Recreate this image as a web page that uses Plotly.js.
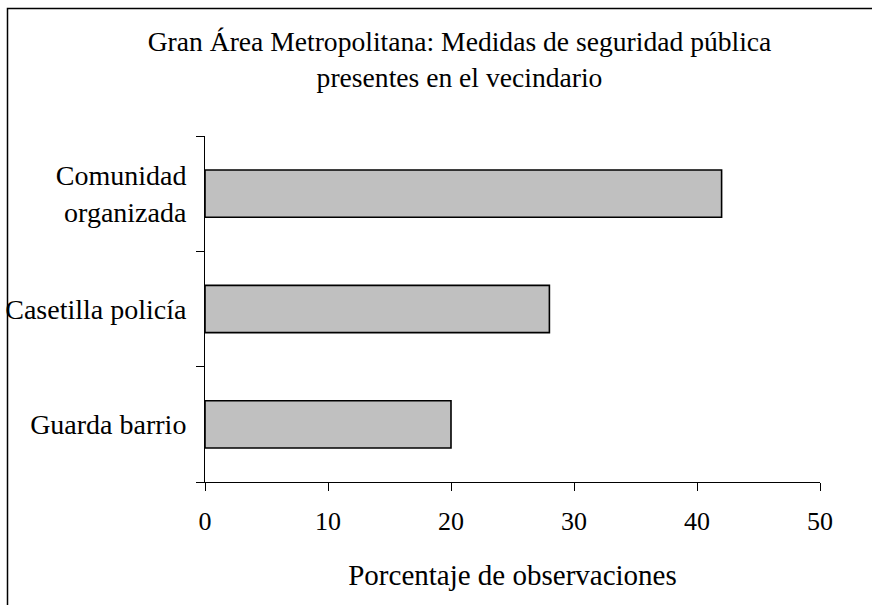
<!DOCTYPE html>
<html>
<head>
<meta charset="utf-8">
<script src="https://cdn.plot.ly/plotly-3.0.1.min.js"></script>
<style>
html,body{margin:0;padding:0;background:#fff;}
#chart{width:872px;height:605px;}
</style>
</head>
<body>
<div id="chart"></div>
<script>
const categories = ["Guarda barrio", "Casetilla policía", "Comunidad<br>organizada"];
const values = [20, 28, 42];
const xTicks = [0, 10, 20, 30, 40, 50];
const titleText = "Gran Área Metropolitana: Medidas de seguridad pública<br>presentes en el vecindario";
const xTitle = "Porcentaje de observaciones";

const FONT = "Liberation Serif, Times New Roman, serif";
const FS = 28;
const W = 872, H = 605;
const L = 205, R = 52, T = 136, B = 123;
const pw = W - L - R, ph = H - T - B;
function px(x){ return (x - L) / pw; }
function py(y){ return (H - B - y) / ph; }

const trace = {
  type: "bar",
  orientation: "h",
  x: values,
  y: categories,
  marker: {color: "#c0c0c0", line: {color: "#000", width: 1.6}},
  hoverinfo: "x+y"
};

const layout = {
  width: W, height: H,
  margin: {l: L, r: R, t: T, b: B, pad: 0},
  paper_bgcolor: "#fff",
  plot_bgcolor: "#fff",
  showlegend: false,
  bargap: 0.59,
  font: {family: FONT, size: FS, color: "#000"},
  title: {
    text: titleText,
    font: {family: FONT, size: 27.6, color: "#000"},
    xref: "container", x: 459.5 / W, xanchor: "center",
    yref: "container", y: 1 - 51 / H, yanchor: "top"
  },
  xaxis: {
    range: [0, 50],
    tickvals: xTicks,
    ticktext: xTicks.map(String),
    ticks: "outside", ticklen: 8, tickwidth: 1, tickcolor: "#000",
    showline: true, linecolor: "#000", linewidth: 1,
    showgrid: false, zeroline: false,
    tickfont: {family: FONT, size: FS - 2, color: "#000"},
    ticklabelstandoff: 8,
    title: {text: xTitle, font: {family: FONT, size: 29, color: "#000"}, standoff: 29},
    fixedrange: true
  },
  yaxis: {
    type: "category",
    categoryorder: "array",
    categoryarray: categories,
    tickson: "boundaries",
    ticks: "outside", ticklen: 8, tickwidth: 1, tickcolor: "#000",
    showline: true, linecolor: "#000", linewidth: 1,
    showgrid: false, zeroline: false,
    tickfont: {family: FONT, size: FS, color: "#000"},
    ticklabelstandoff: 12,
    fixedrange: true
  },
  shapes: [{
    type: "rect", xref: "paper", yref: "paper",
    x0: px(7.5), x1: px(W + 20), y0: py(H + 20), y1: py(8.5),
    line: {color: "#000", width: 1.5}, fillcolor: "rgba(0,0,0,0)",
    layer: "below"
  }]
};

Plotly.newPlot("chart", [trace], layout, {displayModeBar: false, staticPlot: true});
</script>
</body>
</html>
